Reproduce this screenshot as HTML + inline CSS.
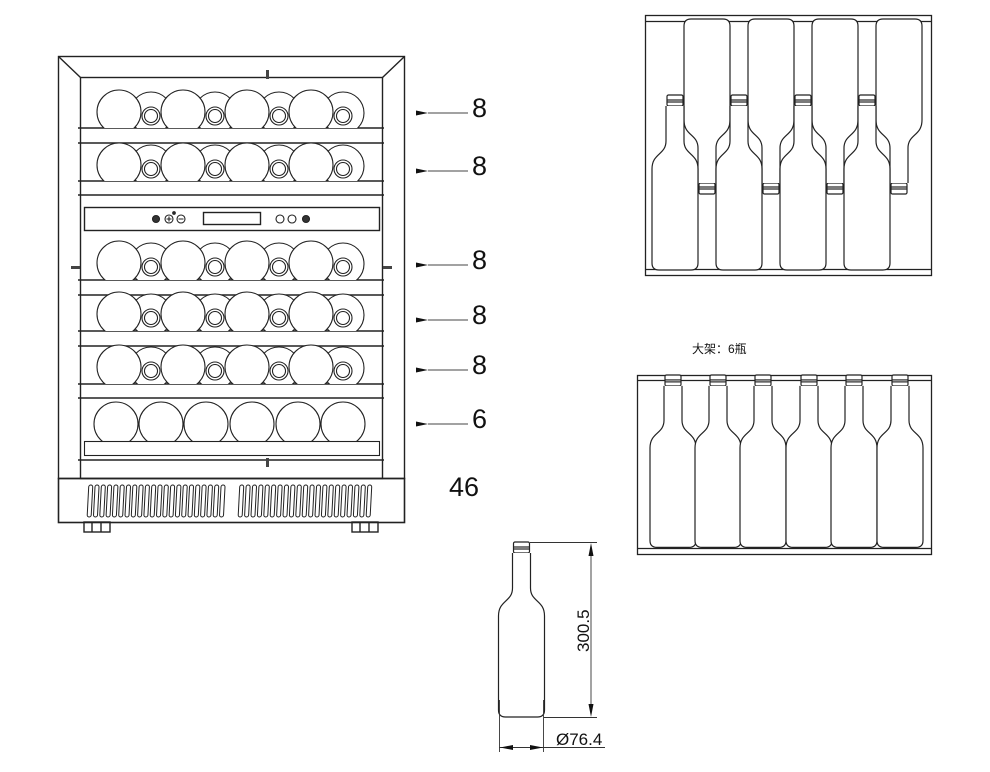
<!DOCTYPE html>
<html><head><meta charset="utf-8"><style>
html,body{margin:0;padding:0;background:#fff;}
svg{display:block;}
text{font-family:"Liberation Sans","Noto Sans CJK SC",sans-serif;fill:#111;}
</style></head><body>
<svg id="s" width="990" height="772" viewBox="0 0 990 772" xmlns="http://www.w3.org/2000/svg">
<defs>
<g id="bt" fill="none" stroke="#222" stroke-width="1.2">
<rect x="-8" y="0" width="16" height="11" rx="1.5" fill="#fff"/>
<line x1="-8" y1="5" x2="8" y2="5"/><line x1="-8" y1="7" x2="8" y2="7"/>
<path d="M -9,11 L -9,46 C -9,60 -23,58 -23,74 L -23,168 Q -23,175 -16,175 L 16,175 Q 23,175 23,168 L 23,74 C 23,58 9,60 9,46 L 9,11" fill="#fff"/>
</g>
<marker id="ah" markerUnits="userSpaceOnUse" markerWidth="12" markerHeight="6" refX="0" refY="3" orient="auto"><path d="M12,0.5 L0,3 L12,5.5 Z" fill="#111"/></marker>
</defs>
</svg>
<script>
var s=document.getElementById('s');
var h='';
h+='<g fill="none" stroke="#222" stroke-width="1.4">';
h+='<rect x="58.5" y="56.5" width="346" height="422"/>';
h+='<rect x="80.5" y="77.5" width="302" height="401"/>';
h+='<line x1="58.5" y1="56.5" x2="80.5" y2="77.5"/><line x1="404.5" y1="56.5" x2="382.5" y2="77.5"/>';
h+='<rect x="58.5" y="478.5" width="346" height="44" stroke-width="1.6"/>';
h+='<rect x="84" y="522" width="26" height="10"/><line x1="92" y1="522" x2="92" y2="532"/><line x1="101" y1="522" x2="101" y2="532"/>';
h+='<rect x="352" y="522" width="26" height="10"/><line x1="360" y1="522" x2="360" y2="532"/><line x1="369" y1="522" x2="369" y2="532"/>';
[128,143,181,195,280,295,331,346,384,398,460].forEach(function(y){h+='<line x1="78" y1="'+y+'" x2="384" y2="'+y+'"/>';});
h+='<rect x="84.5" y="207.5" width="295" height="23"/>';
h+='<rect x="203.5" y="212.5" width="57" height="12"/>';
h+='</g>';
function row8(cy,yb){
  var g='<g stroke="#222" stroke-width="1.1" fill="#fff"><clipPath id="c'+cy+'"><rect x="80" y="0" width="310" height="'+yb+'"/></clipPath><g clip-path="url(#c'+cy+')">';
  [151,215,279,343].forEach(function(x){g+='<circle cx="'+x+'" cy="'+(cy+1)+'" r="21"/>';});
  [119,183,247,311].forEach(function(x){g+='<circle cx="'+x+'" cy="'+cy+'" r="22"/>';});
  [151,215,279,343].forEach(function(x){g+='<circle cx="'+x+'" cy="'+(cy+4)+'" r="9"/><circle cx="'+x+'" cy="'+(cy+4)+'" r="6.5"/>';});
  g+='</g></g>';return g;}
h+=row8(112,128)+row8(165,181)+row8(263,280)+row8(314,331)+row8(367,384);
h+='<g stroke="#222" stroke-width="1.1" fill="#fff"><clipPath id="c6"><rect x="80" y="0" width="310" height="441"/></clipPath><g clip-path="url(#c6)">';
[116,161,206,252,298,343].forEach(function(x){h+='<circle cx="'+x+'" cy="424" r="22"/>';});
h+='</g><rect x="84.5" y="441.5" width="295" height="14" fill="none"/></g>';
h+='<g stroke="#222" stroke-width="1.1" fill="#fff">';
h+='<circle cx="156" cy="219" r="3.5" fill="#333"/><circle cx="169" cy="219" r="4"/><circle cx="181" cy="219" r="4"/><circle cx="174" cy="213" r="1.3" fill="#333"/>';
h+='<path d="M166.5,219h5M169,216.5v5M178.5,219h5" fill="none"/>';
h+='<circle cx="280" cy="219" r="4"/><circle cx="292" cy="219" r="4"/><circle cx="306" cy="219" r="3.5" fill="#333"/></g>';
h+='<g fill="#444"><rect x="266" y="70" width="3" height="9"/><rect x="266" y="458" width="3" height="9"/><rect x="71" y="266" width="9" height="3"/><rect x="383" y="266" width="9" height="3"/></g>';
h+='<g fill="none" stroke="#222" stroke-width="1">';
for(var i=0;i<22;i++){var x=89+i*6.3;h+='<rect x="'+x+'" y="485" width="4" height="32" rx="2" transform="skewX(-3) translate('+(485*0.052)+',0)"/>';}
for(var i=0;i<21;i++){var x=240+i*6.4;h+='<rect x="'+x+'" y="485" width="4" height="32" rx="2" transform="skewX(-3) translate('+(485*0.052)+',0)"/>';}
h+='</g>';
var L=[[113,'8',117],[171,'8',175],[265,'8',269],[320,'8',324],[370,'8',374],[424,'6',428]];
L.forEach(function(a){h+='<line x1="468" y1="'+a[0]+'" x2="428" y2="'+a[0]+'" stroke="#444" stroke-width="0.9" marker-end="url(#ah)"/>';h+='<text x="472" y="'+a[2]+'" font-size="27">'+a[1]+'</text>';});
h+='<text x="449" y="496" font-size="27">46</text>';
h+='<g fill="none" stroke="#222" stroke-width="1.3"><rect x="645.5" y="15.5" width="286" height="260"/><line x1="645" y1="21.5" x2="931" y2="21.5"/><line x1="645" y1="269.5" x2="931" y2="269.5"/></g>';
[707,771,835,899].forEach(function(x){h+='<use href="#bt" transform="translate('+x+',194) scale(1,-1)"/>';});
[675,739,803,867].forEach(function(x){h+='<use href="#bt" transform="translate('+x+',95)"/>';});
h+='<text x="692" y="353" font-size="12">大架：6瓶</text>';
h+='<g fill="none" stroke="#222" stroke-width="1.3"><rect x="637.5" y="375.5" width="294" height="179"/><line x1="637" y1="380.5" x2="932" y2="380.5"/><line x1="637" y1="548.5" x2="932" y2="548.5"/></g>';
[673,718,763,809,854,900].forEach(function(x){h+='<use href="#bt" transform="translate('+x+',375) scale(1,0.985)"/>';});
h+='<use href="#bt" transform="translate(521.5,542)"/>';
h+='<g stroke="#333" stroke-width="0.9" fill="none"><line x1="530" y1="542.5" x2="597" y2="542.5"/><line x1="544" y1="717.5" x2="597" y2="717.5"/>';
h+='<line x1="591" y1="552" x2="591" y2="708"/>';
h+='<line x1="499.5" y1="700" x2="499.5" y2="752"/><line x1="543.5" y1="700" x2="543.5" y2="752"/>';
h+='<line x1="499" y1="747.5" x2="605" y2="747.5"/></g>';
h+='<g fill="#111"><path d="M591,543 L588.5,556 L593.5,556Z"/><path d="M591,717 L588.5,704 L593.5,704Z"/><path d="M500,747.5 L513,745 L513,750Z"/><path d="M543,747.5 L530,745 L530,750Z"/></g>';
h+='<text x="0" y="0" font-size="17" transform="translate(589,652) rotate(-90)">300.5</text>';
h+='<text x="556" y="745" font-size="17">Ø76.4</text>';
s.insertAdjacentHTML('beforeend',h);
</script>
</body></html>
